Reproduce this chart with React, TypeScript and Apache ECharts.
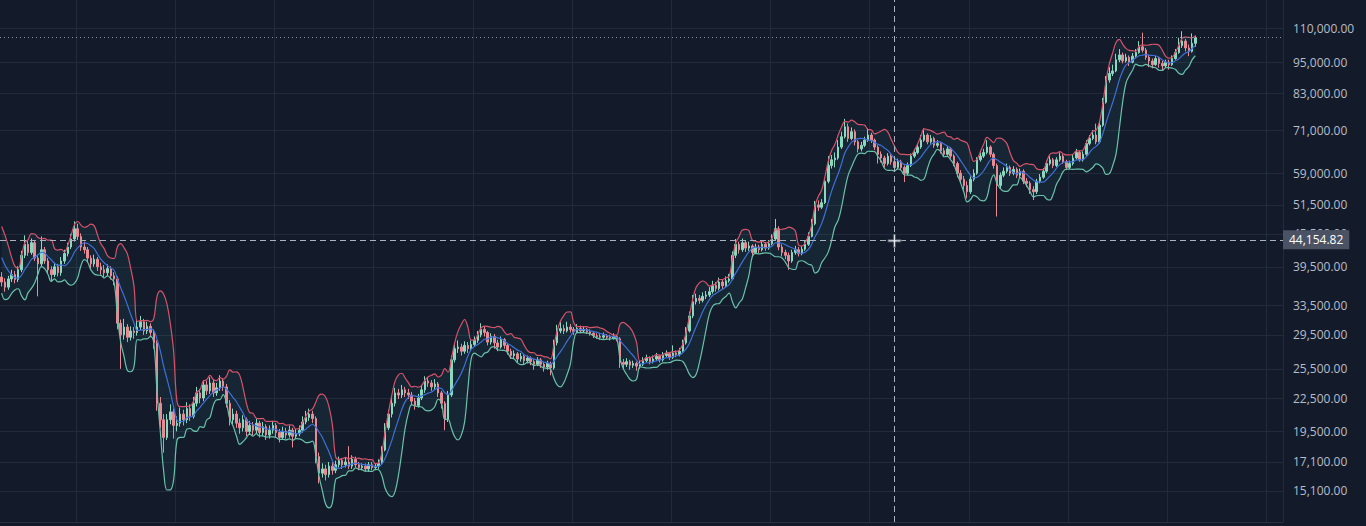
import React, { useEffect, useRef } from 'react';
import * as echarts from 'echarts';

// ---- DATA (prices in thousands of USD, one candle per ~3 days) ----
const warmupCloses = [45.5, 44.0, 42.8, 41.0, 39.5, 38.0];
const firstOpen = 37.8;

const closes = [
  37.0, 36.2, 37.5, 38.2, 37.4, 39.0, 41.5, 43.5, 42.0, 43.8,
  41.0, 40.0, 42.5, 40.5, 39.0, 38.2, 39.5, 38.5, 40.5, 41.8,
  43.0, 44.5, 46.5, 45.0, 43.0, 42.5, 41.0, 40.0, 40.8, 39.5,
  39.0, 38.5, 39.2, 38.0, 37.5, 31.0, 29.5, 30.5, 29.2, 30.0,
  29.8, 30.5, 31.2, 30.0, 30.6, 29.8, 28.5, 22.0, 20.5, 19.0,
  20.5, 21.2, 20.0, 20.2, 21.0, 20.5, 21.5, 20.8, 22.0, 23.0,
  22.5, 23.8, 23.2, 24.0, 23.0, 23.5, 24.2, 23.6, 22.0, 20.5,
  21.0, 20.2, 19.8, 20.5, 19.5, 20.0, 19.6, 20.2, 19.4, 19.9,
  19.2, 19.6, 20.0, 19.4, 19.0, 19.5, 19.2, 19.6, 19.1, 19.3,
  19.6, 20.3, 20.7, 21.0, 20.6, 17.5, 16.3, 16.6, 16.2, 16.8,
  16.5, 16.9, 17.2, 16.9, 17.1, 16.8, 17.3, 16.9, 16.7, 16.8,
  16.6, 16.9, 16.7, 16.8, 17.0, 18.0, 19.8, 21.0, 22.0, 23.0,
  22.8, 23.3, 23.0, 22.8, 22.2, 21.8, 22.5, 23.3, 24.2, 24.0,
  23.6, 23.9, 23.0, 22.0, 20.5, 22.8, 26.5, 27.8, 28.0, 27.5,
  28.2, 27.8, 28.3, 28.8, 29.5, 30.2, 29.8, 28.6, 29.3, 28.5,
  28.0, 28.9, 28.2, 27.5, 27.0, 27.2, 26.6, 26.9, 26.4, 26.7,
  26.3, 26.0, 26.5, 26.0, 25.7, 26.1, 25.6, 28.5, 30.0, 30.3,
  30.0, 30.5, 30.2, 29.9, 30.3, 30.0, 30.2, 29.9, 29.7, 29.4,
  29.3, 29.2, 29.4, 29.2, 29.1, 29.3, 29.0, 26.2, 26.0, 26.3,
  25.9, 26.1, 25.8, 26.0, 26.4, 26.7, 26.3, 26.6, 26.9, 26.5,
  27.0, 27.2, 26.8, 27.3, 27.1, 27.5, 28.5, 30.0, 32.0, 34.0,
  34.5, 34.2, 34.8, 35.0, 35.5, 36.5, 36.0, 37.0, 36.4, 37.2,
  37.5, 41.5, 43.5, 42.5, 43.8, 42.8, 43.2, 42.0, 43.0, 42.5,
  43.5, 42.8, 43.6, 44.5, 46.5, 43.0, 42.0, 41.5, 40.5, 42.0,
  42.5, 41.8, 42.6, 43.5, 45.0, 47.5, 51.5, 51.0, 52.0, 57.0,
  61.0, 62.5, 63.0, 66.0, 69.0, 72.0, 68.5, 70.5, 67.5, 65.5,
  66.5, 68.0, 69.5, 68.0, 66.0, 64.0, 63.0, 61.5, 63.5, 62.0,
  60.5, 62.0, 60.5, 59.0, 61.0, 63.5, 64.5, 66.0, 68.0, 69.5,
  67.5, 68.5, 66.5, 67.0, 65.0, 64.0, 65.5, 63.5, 61.5, 59.0,
  57.5, 56.0, 54.5, 57.5, 59.0, 62.5, 63.5, 64.5, 66.0, 64.0,
  61.0, 56.0, 58.5, 59.5, 60.5, 59.0, 60.0, 58.5, 59.5, 57.0,
  56.5, 55.0, 54.5, 57.0, 58.0, 59.5, 61.5, 62.5, 61.0, 62.5,
  63.5, 62.0, 60.5, 61.5, 63.0, 64.5, 62.5, 64.0, 67.0, 68.5,
  69.5, 67.5, 72.5, 80.0, 88.0, 90.5, 91.5, 96.0, 98.0, 95.5,
  97.0, 95.0, 97.5, 99.0, 101.5, 100.0, 97.0, 95.5, 94.0, 96.5,
  94.5, 93.5, 95.0, 94.0, 96.5, 99.0, 102.0, 104.0, 101.0, 99.5,
  103.0, 105.4,
];

const highs = [
  38.6, 37.6, 38.0, 39.0, 38.8, 39.6, 42.3, 45.2, 44.2, 44.6,
  44.2, 41.6, 45.0, 43.0, 41.0, 39.6, 40.2, 40.0, 41.2, 42.5,
  43.8, 45.5, 48.0, 47.5, 45.6, 44.0, 43.0, 41.5, 41.6, 41.2,
  40.2, 39.8, 39.9, 39.6, 38.6, 37.9, 31.5, 31.6, 30.9, 30.6,
  30.5, 31.5, 32.0, 31.6, 31.2, 31.0, 30.2, 28.8, 22.6, 21.0,
  21.0, 21.9, 21.5, 20.8, 21.6, 21.4, 22.1, 21.9, 22.6, 23.6,
  23.4, 24.3, 24.2, 24.6, 24.3, 24.0, 24.8, 24.5, 23.9, 22.3,
  21.5, 21.3, 20.6, 20.9, 20.7, 20.4, 20.3, 20.6, 20.4, 20.3,
  20.1, 20.0, 20.4, 20.2, 19.7, 19.9, 19.8, 20.0, 19.8, 19.7,
  20.0, 20.8, 21.3, 21.5, 21.3, 20.8, 17.8, 17.0, 16.9, 17.1,
  17.1, 17.2, 17.5, 17.4, 17.4, 18.3, 17.6, 17.5, 17.1, 17.0,
  17.0, 17.1, 17.1, 17.0, 17.3, 18.3, 20.2, 21.4, 22.6, 23.5,
  23.4, 23.8, 23.6, 23.4, 23.1, 22.5, 22.9, 23.7, 24.7, 24.6,
  24.3, 24.4, 24.1, 23.2, 22.2, 23.2, 27.0, 28.5, 28.8, 28.4,
  28.7, 28.6, 28.8, 29.3, 30.0, 31.0, 30.6, 30.0, 29.7, 29.6,
  28.9, 29.3, 29.1, 28.5, 27.8, 27.6, 27.4, 27.3, 27.1, 27.0,
  26.9, 26.6, 26.8, 26.7, 26.3, 26.4, 26.3, 28.9, 30.8, 31.2,
  30.8, 31.2, 30.9, 30.5, 30.9, 30.7, 30.6, 30.4, 30.2, 29.9,
  29.7, 29.6, 29.8, 29.6, 29.5, 29.7, 29.5, 29.2, 26.6, 26.7,
  26.5, 26.4, 26.3, 26.4, 26.8, 27.1, 26.9, 27.0, 27.3, 27.1,
  27.4, 27.6, 27.4, 28.2, 27.6, 27.9, 28.9, 30.5, 32.6, 35.0,
  35.2, 35.0, 35.4, 35.6, 36.2, 37.2, 37.0, 37.7, 37.4, 37.9,
  38.3, 42.2, 44.5, 44.0, 44.6, 44.2, 44.0, 43.5, 43.6, 43.4,
  44.2, 43.9, 44.3, 45.4, 48.5, 47.0, 43.5, 42.5, 42.0, 42.5,
  43.2, 43.0, 43.2, 44.2, 45.8, 48.5, 52.4, 52.5, 52.8, 57.8,
  63.5, 63.8, 64.5, 68.0, 70.5, 74.5, 73.0, 71.8, 71.2, 68.0,
  67.5, 69.0, 71.5, 70.2, 68.5, 66.5, 64.8, 63.6, 64.3, 64.0,
  62.6, 62.8, 62.5, 61.0, 61.8, 64.2, 65.5, 67.0, 69.5, 71.5,
  70.0, 69.5, 69.0, 68.0, 67.5, 65.8, 66.3, 66.0, 64.0, 62.0,
  59.8, 58.3, 57.0, 58.2, 60.0, 63.2, 64.5, 65.5, 68.0, 66.5,
  64.5, 61.5, 59.2, 60.5, 61.5, 61.0, 60.8, 60.5, 60.2, 60.0,
  57.8, 57.0, 55.8, 57.6, 58.8, 60.3, 62.3, 63.5, 63.0, 63.2,
  64.5, 64.0, 62.5, 62.3, 63.8, 65.5, 65.0, 64.8, 68.0, 69.5,
  71.0, 73.0, 73.5, 81.5, 89.5, 93.0, 94.0, 98.5, 100.5, 99.0,
  98.5, 97.8, 98.8, 100.5, 104.0, 107.8, 101.0, 98.0, 96.5, 97.5,
  97.2, 95.5, 96.0, 96.0, 97.8, 100.5, 105.5, 108.5, 105.0, 102.5,
  107.5, 106.5,
];

const lows = [
  36.3, 35.5, 35.8, 37.0, 36.8, 37.0, 38.6, 41.0, 41.4, 41.6,
  40.5, 34.8, 39.6, 40.0, 38.4, 37.2, 37.8, 37.9, 38.0, 40.0,
  41.3, 42.6, 44.0, 44.3, 42.3, 41.8, 40.3, 39.2, 39.5, 38.8,
  38.2, 37.6, 38.0, 37.4, 36.5, 30.2, 25.5, 28.9, 28.6, 28.8,
  29.0, 29.4, 30.1, 29.5, 29.6, 29.2, 27.8, 21.3, 19.8, 17.8,
  18.8, 20.1, 18.9, 19.5, 19.9, 20.0, 20.2, 20.4, 20.6, 21.7,
  22.0, 22.2, 22.8, 22.9, 22.6, 22.7, 23.2, 23.2, 21.6, 20.0,
  20.1, 19.8, 19.3, 19.5, 19.1, 19.2, 19.2, 19.3, 19.0, 19.1,
  18.8, 18.9, 19.3, 19.0, 18.6, 18.8, 18.9, 19.0, 18.2, 18.9,
  19.1, 19.4, 20.1, 20.4, 20.2, 17.0, 15.6, 16.0, 15.8, 16.0,
  16.2, 16.3, 16.7, 16.6, 16.7, 16.6, 16.6, 16.7, 16.5, 16.5,
  16.4, 16.4, 16.5, 16.5, 16.6, 16.9, 17.9, 19.6, 20.7, 21.7,
  22.4, 22.5, 22.6, 22.4, 21.8, 21.4, 21.6, 22.3, 23.0, 23.6,
  23.2, 23.3, 22.6, 21.5, 19.6, 20.3, 22.6, 26.2, 27.3, 27.0,
  27.2, 27.3, 27.5, 28.0, 28.5, 29.2, 29.3, 28.2, 28.3, 27.8,
  27.5, 27.8, 27.8, 27.1, 26.6, 26.7, 26.2, 26.3, 26.0, 26.1,
  25.9, 25.4, 25.8, 25.6, 25.2, 25.4, 24.8, 25.4, 28.2, 29.7,
  29.6, 29.8, 29.8, 29.5, 29.7, 29.7, 29.8, 29.6, 29.4, 29.1,
  29.0, 28.9, 29.0, 28.9, 28.8, 28.9, 28.7, 25.6, 25.5, 25.7,
  25.4, 25.6, 25.3, 25.5, 25.8, 26.2, 26.0, 26.1, 26.4, 26.2,
  26.3, 26.8, 26.5, 26.6, 26.8, 26.9, 27.3, 28.3, 29.8, 31.7,
  33.6, 33.7, 33.9, 34.4, 34.7, 35.2, 35.5, 35.7, 35.9, 36.1,
  36.9, 37.3, 41.0, 41.8, 42.1, 42.1, 42.3, 41.2, 41.7, 41.9,
  42.2, 42.3, 42.5, 43.3, 44.2, 42.4, 41.3, 40.8, 39.0, 40.2,
  41.6, 41.3, 41.5, 42.3, 43.2, 44.8, 47.2, 50.2, 50.6, 51.7,
  56.5, 60.2, 60.5, 62.5, 65.5, 68.5, 67.5, 68.0, 66.5, 64.5,
  64.8, 66.0, 67.5, 67.2, 65.2, 61.5, 61.8, 60.5, 61.0, 61.2,
  59.5, 60.0, 59.8, 56.8, 58.5, 60.6, 63.0, 64.0, 65.5, 67.5,
  66.8, 67.0, 65.8, 65.9, 64.2, 63.2, 63.6, 62.8, 60.8, 58.0,
  56.5, 55.0, 53.0, 54.0, 57.0, 58.6, 62.0, 63.0, 64.0, 63.2,
  60.2, 49.0, 55.2, 58.0, 59.0, 58.3, 58.5, 57.8, 58.0, 56.3,
  55.6, 54.0, 52.6, 54.0, 56.5, 57.6, 59.0, 61.0, 60.3, 60.6,
  62.0, 61.4, 59.8, 60.0, 61.0, 62.6, 62.0, 62.0, 63.6, 66.5,
  68.0, 66.8, 67.0, 72.0, 79.5, 87.0, 89.5, 91.0, 95.0, 94.5,
  94.8, 93.5, 94.5, 96.8, 98.5, 99.0, 96.0, 93.0, 92.5, 93.5,
  92.8, 91.8, 92.6, 92.0, 93.5, 96.0, 98.5, 101.0, 99.5, 97.5,
  99.0, 101.5,
];

const priceTicks = [110000, 95000, 83000, 71000, 59000, 51500, 45500, 39500, 33500, 29500, 25500, 22500, 19500, 17100, 15100];
const crosshairPrice = 44154.82;
const crosshairIndex = 270;
const totalSlots = 388;
const yMin = 13220;
const yMax = 124040;
const BB_PERIOD = 7;
const BB_MULT = 2;

const L = Math.log;
const fmt = (v: number) => v.toLocaleString('en-US', { minimumFractionDigits: 2, maximumFractionDigits: 2 });

export default function App() {
  const ref = useRef<HTMLDivElement>(null);
  useEffect(() => {
    if (!ref.current) return;
    const chart = echarts.init(ref.current, null, { renderer: 'svg' });
    const n = closes.length;
    const cats = Array.from({ length: totalSlots }, (_, i) => String(i));
    const candle = closes.map((c, i) => {
      const o = i === 0 ? firstOpen : closes[i - 1];
      const h = Math.max(highs[i], o, c);
      const lo = Math.min(lows[i], o, c);
      return [L(o * 1000), L(c * 1000), L(lo * 1000), L(h * 1000)];
    });
    const all = [...warmupCloses, ...closes];
    const mid: number[] = [], up: number[] = [], dn: number[] = [];
    for (let i = 0; i < n; i++) {
      const j = i + warmupCloses.length;
      const w = all.slice(Math.max(0, j - BB_PERIOD + 1), j + 1);
      const m = w.reduce((a, b) => a + b, 0) / w.length;
      const sd = Math.sqrt(w.reduce((a, b) => a + (b - m) * (b - m), 0) / w.length);
      mid.push(L(m * 1000));
      up.push(L((m + BB_MULT * sd) * 1000));
      dn.push(L(Math.max(m - BB_MULT * sd, 1) * 1000));
    }
    const diff = up.map((u, i) => u - dn[i]);
    const tickLn = priceTicks.map((t) => L(t));
    const labelFor = (v: number) => {
      let best = priceTicks[0];
      let bd = Infinity;
      priceTicks.forEach((t) => {
        const d = Math.abs(L(t) - v);
        if (d < bd) { bd = d; best = t; }
      });
      return fmt(best);
    };
    const dash = { color: '#aab2c0', width: 1, type: [6, 4] as any };
    chart.setOption({
      animation: false,
      backgroundColor: '#131b2b',
      grid: { left: 0, right: 83, top: 0, bottom: 4 },
      xAxis: {
        type: 'category',
        data: cats,
        boundaryGap: true,
        axisLine: { show: true, lineStyle: { color: '#283142' } },
        axisTick: { show: false },
        axisLabel: { show: false },
        splitLine: {
          show: true,
          interval: (idx: number) => idx >= 23 && (idx - 23) % 30 === 0,
          lineStyle: { color: '#212b3b', width: 1 },
        },
      },
      yAxis: {
        type: 'value',
        position: 'right',
        min: L(yMin),
        max: L(yMax),
        axisLine: { show: false },
        axisTick: { show: false, customValues: tickLn },
        axisLabel: {
          customValues: tickLn,
          formatter: (v: number) => labelFor(v),
          color: '#b7bdc8',
          fontSize: 12,
          fontFamily: 'Open Sans',
          margin: 10,
        },
        splitLine: { show: true, lineStyle: { color: '#212b3b', width: 1 } },
      },
      series: [
        {
          type: 'line', name: 'bbLower', data: dn, stack: 'bb', smooth: 0.4,
          showSymbol: false, z: 1, lineStyle: { width: 0, opacity: 0 }, silent: true,
        },
        {
          type: 'line', name: 'bbFill', data: diff, stack: 'bb', smooth: 0.4,
          showSymbol: false, z: 1, lineStyle: { width: 0, opacity: 0 },
          areaStyle: { color: 'rgba(72, 160, 150, 0.13)' }, silent: true,
        },
        {
          type: 'candlestick', name: 'price', data: candle, barWidth: 2, z: 2,
          itemStyle: { color: '#8ad8bd', color0: '#e98b95', borderColor: '#8ad8bd', borderColor0: '#e98b95', borderWidth: 1 },
          markLine: {
            symbol: ['none', 'none'], silent: true, animation: false,
            data: [
              { yAxis: L(closes[n - 1] * 1000), lineStyle: { color: '#8b94a5', width: 1, type: [1, 3] as any }, label: { show: false } },
              {
                yAxis: L(crosshairPrice), lineStyle: dash,
                label: {
                  show: true, position: 'end', distance: 0, formatter: fmt(crosshairPrice),
                  color: '#ffffff', backgroundColor: '#4a5263', padding: [4, 6, 3, 6],
                  fontSize: 12, fontFamily: 'Open Sans',
                },
              },
              { xAxis: crosshairIndex, lineStyle: dash, label: { show: false } },
            ],
          },
          markPoint: {
            silent: true, animation: false,
            data: [{
              coord: [crosshairIndex, L(crosshairPrice)],
              symbol: 'path://M5,0H7V5H12V7H7V12H5V7H0V5H5Z',
              symbolSize: 13,
              itemStyle: { color: '#e4e7ec', borderColor: '#4a5161', borderWidth: 1 },
              label: { show: false },
            }],
          },
        },
        {
          type: 'line', name: 'bbUpper', data: up, smooth: 0.4, showSymbol: false, z: 3,
          lineStyle: { color: '#d6536a', width: 1.2 }, silent: true,
        },
        {
          type: 'line', name: 'bbLowerLine', data: dn, smooth: 0.4, showSymbol: false, z: 3,
          lineStyle: { color: '#69c2aa', width: 1.2 }, silent: true,
        },
        {
          type: 'line', name: 'bbMid', data: mid, smooth: 0.4, showSymbol: false, z: 3,
          lineStyle: { color: '#3f6fd8', width: 1.2 }, silent: true,
        },
      ],
    });
    return () => chart.dispose();
  }, []);
  return (
    <div
      ref={ref}
      style={{ position: 'fixed', left: 0, top: 0, width: 1366, height: 526, background: '#131b2b' }}
    />
  );
}
